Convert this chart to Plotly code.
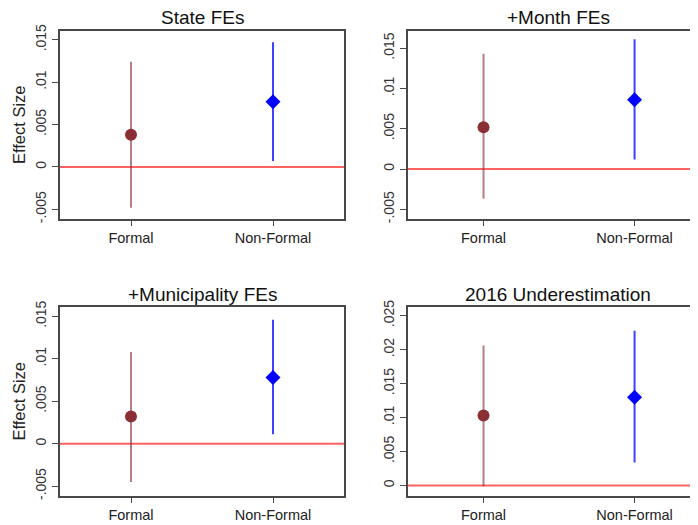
import plotly.graph_objects as go

categories = ["Formal", "Non-Formal"]
titles = ["State FEs", "+Month FEs", "+Municipality FEs", "2016 Underestimation"]

# point estimates [Formal, Non-Formal] per panel
est = [
    [0.0038, 0.0077],
    [0.0052, 0.0086],
    [0.0032, 0.0078],
    [0.0103, 0.0130],
]
ci_lo = [
    [-0.0048, 0.0007],
    [-0.0037, 0.0012],
    [-0.0045, 0.0011],
    [-0.0001, 0.0034],
]
ci_hi = [
    [0.0124, 0.0147],
    [0.0143, 0.0161],
    [0.0108, 0.0146],
    [0.0206, 0.0228],
]
ytick_vals = [
    [-0.005, 0, 0.005, 0.01, 0.015],
    [-0.005, 0, 0.005, 0.01, 0.015],
    [-0.005, 0, 0.005, 0.01, 0.015],
    [0, 0.005, 0.01, 0.015, 0.02, 0.025],
]
ytick_text = [
    ["-.005", "0", ".005", ".01", ".015"],
    ["-.005", "0", ".005", ".01", ".015"],
    ["-.005", "0", ".005", ".01", ".015"],
    ["0", ".005", ".01", ".015", ".02", ".025"],
]
y_ranges = [
    [-0.00614, 0.0161],
    [-0.0062, 0.0172],
    [-0.0061, 0.0161],
    [-0.00147, 0.02628],
]

OFF = 8  # page body margin
W, H = 698 - OFF, 525 - OFF
FONT = "Liberation Sans, Arial, sans-serif"

# layout (window pixel boxes): left, right, top, bottom
boxes = [
    (60, 344, 30.5, 219),
    (408, 698, 30.5, 219),
    (60, 344, 307, 495.5),
    (408, 698, 307, 495.5),
]
x_ranges = [[0.5, 2.5], [0.5, 2.42], [0.5, 2.5], [0.5, 2.42]]
title_pos = [(202, 17), (558, 17), (202, 294), (558, 294)]

fig = go.Figure()
marker_colors = ["#8B2F37", "#0000FF"]
err_colors = ["rgba(139,47,55,0.62)", "rgba(0,0,255,0.75)"]
symbols = ["circle", "diamond"]
sizes = [12, 11.5]

for p in range(4):
    ax = "" if p == 0 else str(p + 1)
    xa, ya = "x" + ax, "y" + ax
    for c in range(2):
        fig.add_trace(go.Scatter(
            x=[c + 1], y=[est[p][c]], mode="markers", xaxis=xa, yaxis=ya,
            marker=dict(symbol=symbols[c], size=sizes[c], color=marker_colors[c]),
            error_y=dict(type="data", symmetric=False,
                         array=[ci_hi[p][c] - est[p][c]],
                         arrayminus=[est[p][c] - ci_lo[p][c]],
                         width=0, thickness=2, color=err_colors[c]),
            showlegend=False, cliponaxis=False,
        ))
    l, r, t, b = [v - OFF for v in boxes[p]]
    right_cut = p in (1, 3)
    fig.layout["xaxis" + ax] = dict(
        domain=[l / W, min(r / W, 1)], anchor=ya, range=x_ranges[p],
        tickvals=[1, 2], ticktext=categories, showline=True, mirror=True,
        linecolor="#484848", linewidth=2, ticks="outside", ticklen=5,
        tickcolor="#484848", showgrid=False, zeroline=False, automargin=False,
        tickfont=dict(family=FONT, size=14.5, color="#222"),
    )
    fig.layout["yaxis" + ax] = dict(
        domain=[1 - b / H, 1 - t / H], anchor=xa, range=y_ranges[p],
        tickvals=ytick_vals[p], ticktext=ytick_text[p], tickangle=-90,
        showline=True, mirror=not right_cut, linecolor="#484848", linewidth=2,
        ticks="outside", ticklen=6, tickcolor="#484848", showgrid=False,
        zeroline=False, automargin=False,
        tickfont=dict(family=FONT, size=14, color="#333"),
        title=dict(text="Effect Size" if p in (0, 2) else "",
                   font=dict(family=FONT, size=16.5, color="#222"), standoff=4),
    )
    fig.add_shape(type="line", xref=xa + " domain", yref=ya, x0=0, x1=1, y0=0, y1=0,
                  line=dict(color="rgba(255,0,0,0.62)", width=2), layer="below")
    tx, ty = title_pos[p]
    fig.add_annotation(text=titles[p], x=(tx - OFF) / W, y=1 - (ty - OFF) / H,
                       xref="paper", yref="paper",
                       showarrow=False, xanchor="center", yanchor="middle",
                       font=dict(family=FONT, size=19, color="#111"))

fig.update_layout(width=W, height=H, margin=dict(l=0, r=0, t=0, b=0, autoexpand=False),
                  paper_bgcolor="white", plot_bgcolor="white")
fig.write_html("out.html")
